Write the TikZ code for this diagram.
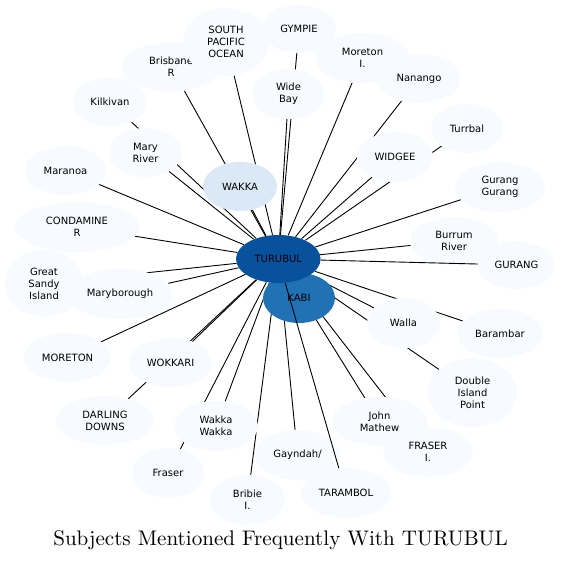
\documentclass[tikz,border=0pt]{standalone}
\usepackage{fontspec}
\newfontfamily\nodefont{DejaVu Sans}
\newfontfamily\titlefont{lmroman10-regular}[Extension=.otf]
\usetikzlibrary{shapes.geometric}
\pgfdeclarelayer{edges}
\pgfdeclarelayer{over}
\pgfdeclarelayer{topn}
\pgfsetlayers{edges,main,over,topn}
\definecolor{pale}{RGB}{247,251,255}
\definecolor{wakkac}{RGB}{219,233,246}
\definecolor{kabic}{RGB}{33,113,181}
\definecolor{turc}{RGB}{8,81,156}
\begin{document}
\begin{tikzpicture}[x=1pt,y=-1pt,
  ent/.style={ellipse, fill=pale, inner sep=0pt, align=center,
    font=\nodefont\fontsize{10}{12}\selectfont, text=black},
  sz/.style 2 args={minimum width=#1pt, minimum height=#2pt},
  link/.style={line width=0.9pt, black}]
\useasboundingbox (0,0) rectangle (560,561);
% peripheral nodes
\node[ent, sz={98}{49}] (bris) at (171,67) {Brisbane\\R};
\node[ent, sz={86}{68}] (spo) at (226,42) {SOUTH\\PACIFIC\\OCEAN};
\node[ent, sz={74}{48}] (gympie) at (299,29) {GYMPIE};
\node[ent, sz={74}{49}] (kilk) at (110,102) {Kilkivan};
\node[ent, sz={73}{50}] (wide) at (288.5,94) {Wide\\Bay};
\node[ent, sz={95}{50}] (morI) at (362.5,58) {Moreton\\I.};
\node[ent, sz={83}{49}] (nan) at (419,78.5) {Nanango};
\node[ent, sz={72}{49}] (turr) at (467,128.5) {Turrbal};
\node[ent, sz={76}{50}] (widg) at (395,157) {WIDGEE};
\node[ent, sz={90}{50}] (gg) at (500,187) {Gurang\\Gurang};
\node[ent, sz={73}{49}] (mary) at (145.5,152.5) {Mary\\River};
\node[ent, sz={81}{49}] (maran) at (65.5,170.5) {Maranoa};
\node[ent, sz={124}{50}] (cond) at (77,227) {CONDAMINE\\R};
\node[ent, sz={79}{67}] (gsi) at (44,283.5) {Great\\Sandy\\Island};
\node[ent, sz={106}{50}] (maryb) at (120,294) {Maryborough};
\node[ent, sz={88}{48}] (burrum) at (454,241) {Burrum\\River};
\node[ent, sz={77}{48}] (gurang) at (516.5,265) {GURANG};
\node[ent, sz={87}{49}] (moreton) at (67.5,357.5) {MORETON};
\node[ent, sz={83}{49}] (wokk) at (170.5,362.5) {WOKKARI};
\node[ent, sz={73}{50}] (walla) at (403.5,323) {Walla};
\node[ent, sz={86}{49}] (bar) at (500,333.5) {Barambar};
\node[ent, sz={89}{69}] (dip) at (472.5,392.5) {Double\\Island\\Point};
\node[ent, sz={98}{49}] (dd) at (105,420.5) {DARLING\\DOWNS};
\node[ent, sz={84}{50}] (ww) at (216,426) {Wakka\\Wakka};
\node[ent, sz={95}{49}] (jm) at (379.5,421.5) {John\\Mathew};
\node[ent, sz={90}{50}] (fraserI) at (428,452) {FRASER\\I.};
\node[ent, sz={85}{50}] (gay) at (297.5,455) {Gayndah/};
\node[ent, sz={72}{50}] (fraser) at (168,473) {Fraser};
\node[ent, sz={90}{50}] (taram) at (346,493) {TARAMBOL};
\node[ent, sz={75}{50}] (bribie) at (247.5,500) {Bribie\\I.};
\node[ent, fill=wakkac, sz={74}{49}] (wakka) at (240,186.5) {WAKKA};
\node[ent, fill=kabic, sz={72}{50}] (kabi) at (299,298) {KABI};
\begin{pgfonlayer}{topn}
\node[ent, fill=turc, sz={84.6}{48}] (tur) at (278.3,259) {TURUBUL};
\end{pgfonlayer}
% connectors
\begin{pgfonlayer}{edges}
\foreach \n in {bris,spo,gympie,kilk,wide,morI,nan,turr,widg,gg,mary,maran,cond,gsi,maryb,burrum,moreton,wokk,walla,bar,dip,dd,ww,jm,fraserI,gay,fraser,bribie,wakka}
  \draw[link] (tur) -- (\n);
\end{pgfonlayer}
\begin{pgfonlayer}{over}
\draw[link] (tur) -- (taram);
\draw[link] (tur) -- (gurang);
\end{pgfonlayer}
\node[font=\titlefont\fontsize{21.1}{25}\selectfont, anchor=base] (title) at (280.5,545) {Subjects Mentioned Frequently With TURUBUL};
\end{tikzpicture}
\end{document}
